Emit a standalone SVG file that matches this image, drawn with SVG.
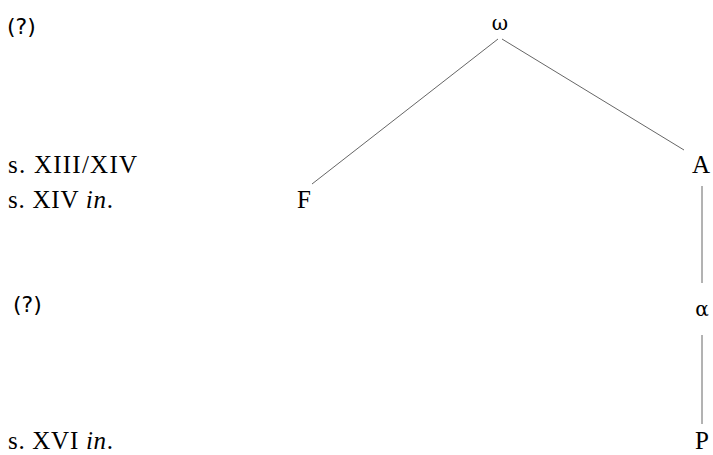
<svg xmlns="http://www.w3.org/2000/svg" width="713" height="455" viewBox="0 0 713 455">
<style>
text{font-family:"Liberation Serif","Times New Roman",serif;font-size:25px;fill:#000}
.g{font-family:"DejaVu Serif","Liberation Serif",serif;font-size:20px}
.q{font-family:"DejaVu Sans","Liberation Sans",sans-serif;font-size:22px}
.n{text-anchor:middle}
line{stroke:#666;stroke-width:1}
</style>
<rect width="713" height="455" fill="#fff"/>
<g id="labels">
<text class="q" x="7" y="34">(?)</text>
<text x="8" y="173" textLength="129" lengthAdjust="spacing">s. XIII/XIV</text>
<text x="8" y="208" textLength="105" lengthAdjust="spacing">s. XIV <tspan font-style="italic">in</tspan>.</text>
<text class="q" x="13" y="312">(?)</text>
<text x="8" y="449" textLength="105" lengthAdjust="spacing">s. XVI <tspan font-style="italic">in</tspan>.</text>
</g>
<g id="connectors">
<line x1="498" y1="39" x2="312" y2="184"/>
<line x1="502" y1="39" x2="684" y2="150"/>
<line x1="702" y1="186" x2="702" y2="283"/>
<line x1="702" y1="335" x2="702" y2="424"/>
</g>
<g id="node-omega"><text class="g n" x="500" y="30">ω</text></g>
<g id="node-F"><text class="n" x="304" y="208">F</text></g>
<g id="node-A"><text class="n" x="701" y="173">A</text></g>
<g id="node-alpha"><text class="g n" x="702" y="316">α</text></g>
<g id="node-P"><text class="n" x="702" y="449">P</text></g>
</svg>
